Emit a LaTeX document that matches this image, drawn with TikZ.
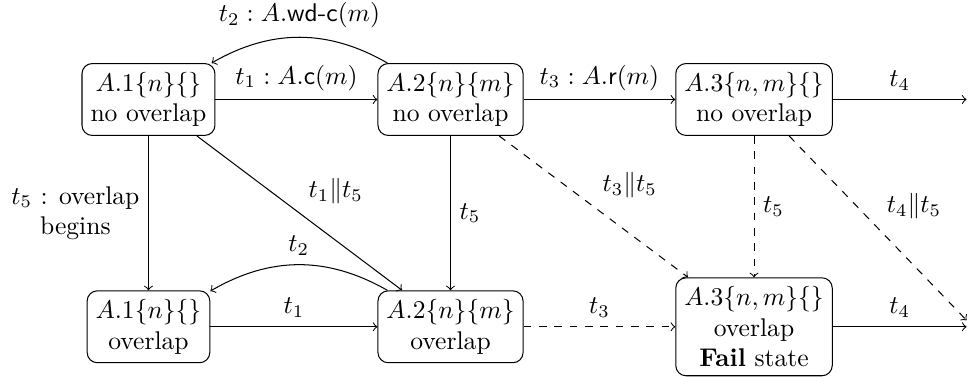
\documentclass[tikz,border=0pt]{standalone}
\begin{document}
\begin{tikzpicture}[>=to, statebox/.style={draw, rounded corners, align=center}]
	\useasboundingbox (0,0) rectangle (13.30,-5.18);
	% 1. 上排状态
	\node[statebox] (a1) at (2.04,-1.367) {$A.1\{n\}\{\}$\\no overlap};
	\node[statebox] (a2) at (6.19,-1.367) {$A.2\{n\}\{m\}$\\no overlap};
	\node[statebox] (a3) at (10.36,-1.367) {$A.3\{n,m\}\{\}$\\no overlap};
	
	% 2. 下排状态
	\node[statebox] (b1) at (2.04,-4.49) {$A.1\{n\}\{\}$\\overlap};
	\node[statebox] (b2) at (6.19,-4.49) {$A.2\{n\}\{m\}$\\overlap};
	\node[statebox] (fail) at (10.36,-4.49) {$A.3\{n,m\}\{\}$\\overlap\\\textbf{Fail} state};
	
	% 出口端点
	\coordinate (out1) at (13.28,-1.367);
	\coordinate (out2) at (13.28,-4.49);
	\coordinate (out3) at (13.28,-4.40);
	
	% 3. 上排迁移
	\draw[->] (a1) -- node[above] {$t_1 : A.\textsf{c}(m)$} (a2);
	\draw[->] (a2) to[bend right] node[above] {$t_2 : A.\textsf{wd-c}(m)$} (a1);
	\draw[->] (a2) -- node[above] {$t_3 : A.\textsf{r}(m)$} (a3);
	\draw[->] (a3) -- node[above] {$t_4$} (out1);
	
	% 4. 上下之间的迁移
	\draw[->] (a1) -- node[left, align=center] {$t_5$ : overlap\\begins} (b1);
	\draw[->] (a1) -- node[above right] {$t_1\|t_5$} (b2);
	\draw[->] (a2) -- node[right] {$t_5$} (b2);
	\draw[->, dashed] (a2) -- node[above right] {$t_3\|t_5$} (fail);
	\draw[->, dashed] (a3) -- node[right] {$t_5$} (fail);
	\draw[->, dashed] (a3) -- node[above right] {$t_4\|t_5$} (out3);
	
	% 5. 下排迁移
	\draw[->] (b1) -- node[above] {$t_1$} (b2);
	\draw[->] (b2) to[bend right] node[above] {$t_2$} (b1);
	\draw[->, dashed] (b2) -- node[above] {$t_3$} (fail);
	\draw[->] (fail) -- node[above] {$t_4$} (out2);
\end{tikzpicture}
\end{document}
